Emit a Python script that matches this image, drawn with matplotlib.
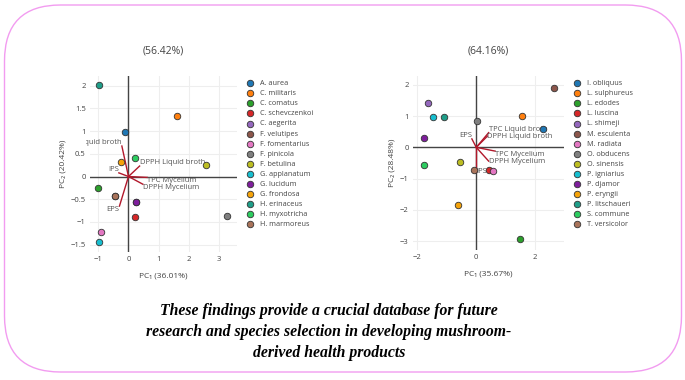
import matplotlib.pyplot as plt
from matplotlib.patches import FancyBboxPatch, Rectangle

plt.rcParams['font.family'] = ['Open Sans', 'DejaVu Sans']

# palette shared by both panels (plotly-like)
colors = ['#1f77b4', '#ff7f0e', '#2ca02c', '#d62728', '#9467bd', '#8c564b', '#e377c2', '#7f7f7f',
          '#bcbd22', '#17becf', '#7e1e9c', '#f5a30a', '#1f9e89', '#2dcc60', '#a9735a']

# ---- left panel: mycelium species ----
left_species = ["A. aurea", "C. militaris", "C. comatus", "C. schevczenkoi", "C. aegerita", "F. velutipes",
                "F. fomentarius", "F. pinicola", "F. betulina", "G. applanatum", "G. lucidum", "G. frondosa",
                "H. erinaceus", "H. myxotricha", "H. marmoreus"]
left_pc1 = [-0.10, 1.63, -1.03, 0.22, 0.25, -0.46, -0.90, 3.29, 2.58, -0.98, 0.25, -0.24, -0.97, 0.22, -0.46]
left_pc2 = [0.98, 1.33, -0.26, -0.90, -0.56, -0.43, -1.23, -0.86, 0.26, -1.43, -0.56, 0.31, 2.01, 0.40, -0.43]

left_load_names = ["TPC Liquid broth", "IPS", "DPPH Liquid broth", "TPC Mycelium", "DPPH Mycelium", "EPS"]
left_load_x = [-0.22, -0.32, 0.37, 0.63, 0.48, -0.30]
left_load_y = [0.67, 0.08, 0.23, -0.02, -0.17, -0.65]

# ---- right panel ----
right_species = ["I. obliquus", "L. sulphureus", "L. edodes", "L. luscina", "L. shimeji", "M. esculenta",
                 "M. radiata", "O. obducens", "O. sinensis", "P. igniarius", "P. djamor", "P. eryngii",
                 "P. litschaueri", "S. commune", "T. versicolor"]
right_pc1 = [2.28, 1.55, 1.47, 0.44, -1.64, 2.64, 0.58, 0.03, -0.55, -1.47, -1.77, -0.63, -1.08, -1.77, -0.08]
right_pc2 = [0.60, 1.01, -2.94, -0.72, 1.43, 1.90, -0.76, 0.83, -0.47, 0.98, 0.31, -1.83, 0.98, -0.57, -0.73]

right_load_names = ["TPC Liquid broth", "DPPH Liquid broth", "EPS", "TPC Mycelium", "DPPH Mycelium", "IPS"]
right_load_x = [0.42, 0.38, -0.15, 0.64, 0.42, 0.0]
right_load_y = [0.47, 0.36, 0.27, -0.12, -0.44, -0.78]

left_title = "(56.42%)"
right_title = "(64.16%)"
left_xlabel, left_ylabel = "PC₁ (36.01%)", "PC₂ (20.42%)"
right_xlabel, right_ylabel = "PC₁ (35.67%)", "PC₂ (28.48%)"

left_xticks = [-1, 0, 1, 2, 3]
left_yticks = [-1.5, -1, -0.5, 0, 0.5, 1, 1.5, 2]
right_xticks = [-2, 0, 2]
right_yticks = [-3, -2, -1, 0, 1, 2]

caption = ("These findings provide a crucial database for future\n"
           "research and species selection in developing mushroom-\n"
           "derived health products")

W, H = 685, 380
fig = plt.figure(figsize=(W / 100, H / 100), dpi=100)

# rounded pink frame
frame = FancyBboxPatch((0.045, 0.08), 6.77, 3.67, boxstyle="round,pad=0,rounding_size=0.56",
                       transform=fig.dpi_scale_trans, facecolor='none', edgecolor='#f29cf0', linewidth=1.0)
fig.patches.append(frame)

def px_axes(x0, y0, x1, y1):
    return fig.add_axes([x0 / W, 1 - y1 / H, (x1 - x0) / W, (y1 - y0) / H])

def fmt(v):
    s = ('%g' % v)
    return s.replace('-', '\u2212')

# label placement (ha, va) per loading
left_align = [('right', 'bottom'), ('right', 'bottom'), ('left', 'bottom'),
              ('left', 'top'), ('left', 'top'), ('right', 'top')]
right_align = [('left', 'bottom'), ('left', 'center'), ('right', 'bottom'),
               ('left', 'top'), ('left', 'center'), ('left', 'center')]

def draw_panel(ax, species, pc1, pc2, lnames, lx, ly, align, xticks, yticks, xlim, ylim, title, xl, yl):
    ax.set_xlim(xlim)
    ax.set_ylim(ylim)
    ax.patch.set_alpha(0)
    for s in ax.spines.values():
        s.set_visible(False)
    ax.set_xticks(xticks)
    ax.set_yticks(yticks)
    ax.set_xticklabels([fmt(v) for v in xticks])
    ax.set_yticklabels([fmt(v) for v in yticks])
    ax.tick_params(length=0, labelsize=5.5, labelcolor='#444444', pad=3)
    ax.grid(True, color='#eeeeee', linewidth=0.8)
    ax.set_axisbelow(True)
    ax.axhline(0, color='#444444', linewidth=1.0, zorder=1)
    ax.axvline(0, color='#444444', linewidth=1.0, zorder=1)
    clip = Rectangle((-0.03, -0.03), 1.06, 1.06, transform=ax.transAxes, facecolor='none', edgecolor='none')
    for name, x, y, (ha, va) in zip(lnames, lx, ly, align):
        ax.plot([0, x], [0, y], color='#b2182b', linewidth=1.0, zorder=2)
        t = ax.text(x, y, name, ha=ha, va=va, fontsize=5.5, color='#555555', zorder=2, clip_on=True)
        t.set_clip_path(clip)
    for i, name in enumerate(species):
        ax.scatter(pc1[i], pc2[i], s=22, color=colors[i], edgecolor='#333333', linewidth=0.6,
                   zorder=3, label=name)
    ax.set_title(title, fontsize=7.5, color='#444444', pad=16)
    ax.set_xlabel(xl, fontsize=6, color='#444444', labelpad=7)
    ax.set_ylabel(yl, fontsize=6, color='#444444', labelpad=3)

def add_legend(ax, x_px):
    ax.legend(loc='upper left', bbox_to_anchor=(x_px / W, 1 - 80 / H), bbox_transform=fig.transFigure,
              frameon=False, fontsize=5.2, labelcolor='#444444', handletextpad=0.9, labelspacing=0.42,
              borderaxespad=0, borderpad=0, handlelength=1.0)

axL = px_axes(90, 76, 237, 252)
draw_panel(axL, left_species, left_pc1, left_pc2, left_load_names, left_load_x, left_load_y, left_align,
           left_xticks, left_yticks, (-1.28, 3.61), (-1.66, 2.21), left_title, left_xlabel, left_ylabel)
add_legend(axL, 246)

axR = px_axes(413, 76, 564, 250)
draw_panel(axR, right_species, right_pc1, right_pc2, right_load_names, right_load_x, right_load_y, right_align,
           right_xticks, right_yticks, (-2.15, 2.98), (-3.28, 2.28), right_title, right_xlabel, right_ylabel)
add_legend(axR, 573)

fig.text(329 / W, 1 - 332 / H, caption, ha='center', va='center', fontsize=11.3, family='Liberation Serif',
         style='italic', weight='bold', linespacing=1.38, color='black')

fig.savefig("out.png", dpi=100)
